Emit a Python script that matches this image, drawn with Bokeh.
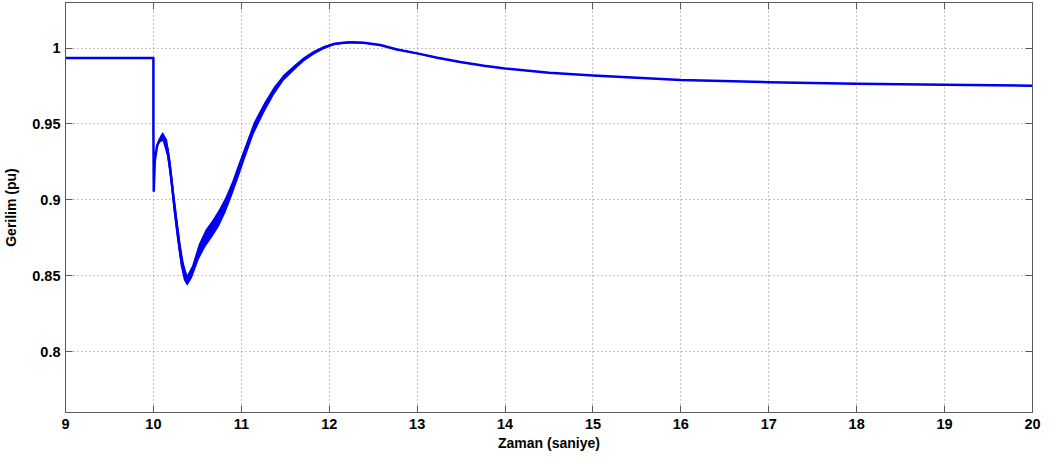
from bokeh.plotting import figure
from bokeh.models import Range1d, FixedTicker, LinearAxis, CustomJSTickFormatter
from bokeh.embed import file_html
from bokeh.resources import INLINE
import numpy as np

# Bus voltage after a fault at t = 10 s
t_s = [9.0, 10.0, 10.0, 10.004, 10.016, 10.043, 10.075, 10.107, 10.157, 10.195,
       10.232, 10.27, 10.31, 10.346, 10.385, 10.44, 10.517, 10.593, 10.669, 10.745,
       10.82, 10.896, 10.97, 11.04, 11.14, 11.26, 11.37, 11.48, 11.6, 11.71,
       11.825, 11.94, 12.05, 12.14, 12.24, 12.39, 12.58, 12.77, 13.0, 13.23,
       13.49, 13.76, 14.0, 14.18, 14.5, 15.0, 15.5, 16.0, 17.0, 18.0,
       19.0, 20.0]
v_pu = [0.9934, 0.9934, 0.945, 0.906, 0.926, 0.936, 0.940, 0.9417, 0.934, 0.9186,
        0.899, 0.881, 0.8636, 0.8527, 0.847, 0.8527, 0.866, 0.8748, 0.881, 0.888,
        0.8967, 0.9076, 0.9196, 0.931, 0.947, 0.9607, 0.9717, 0.9805, 0.987, 0.9926,
        0.997, 1.0003, 1.0026, 1.0033, 1.0038, 1.0035, 1.002, 0.9991, 0.9965, 0.9936,
        0.9908, 0.9884, 0.9866, 0.9855, 0.9838, 0.982, 0.9805, 0.979, 0.9775, 0.9765,
        0.9759, 0.9752]
# half-width of the fast oscillation riding on the response
osc_pu = [0.0, 0.0, 0.0, 0.0, 0.001, 0.0015, 0.002, 0.003, 0.0055, 0.007,
          0.0075, 0.0075, 0.007, 0.0055, 0.0035, 0.004, 0.005, 0.0055, 0.0055, 0.0055,
          0.005, 0.0045, 0.0045, 0.004, 0.0038, 0.0032, 0.0026, 0.002, 0.0017, 0.0014,
          0.0012, 0.001, 0.0008, 0.0007, 0.0006, 0.0005, 0.0005, 0.0005, 0.0004, 0.0004,
          0.0004, 0.0003, 0.0003, 0.0003, 0.0003, 0.0003, 0.0003, 0.0003, 0.0003, 0.0003,
          0.0003, 0.0003]

x_ticks = list(range(9, 21))
y_ticks = [0.8, 0.85, 0.9, 0.95, 1.0]

FONT = "Liberation Sans"
FRAME = "#5a5a5a"
BLUE = "#0000f0"

p = figure(width=1051, height=459, output_backend="svg", toolbar_location=None,
           x_range=Range1d(9, 20), y_range=Range1d(0.76, 1.03),
           min_border_left=65, min_border_right=19, min_border_top=2,
           min_border_bottom=47)
p.background_fill_color = "white"
p.border_fill_color = "white"
p.outline_line_color = FRAME
p.outline_line_width = 1

v = np.array(v_pu)
a = np.array(osc_pu)
p.varea(x=t_s, y1=v - a, y2=v + a, fill_color=BLUE)
p.line(t_s, v_pu, line_color=BLUE, line_width=2.5, line_join="round")

fmt = CustomJSTickFormatter(code="""
let s = tick.toFixed(2);
s = s.replace(/0+$/, '').replace(/\\.$/, '');
return s;
""")

for ax in (p.xaxis[0], p.yaxis[0]):
    ax.major_label_text_font = FONT
    ax.major_label_text_font_style = "bold"
    ax.major_label_text_font_size = "14.5px"
    ax.major_label_text_color = "black"
    ax.axis_label_text_font = FONT
    ax.axis_label_text_font_style = "bold"
    ax.axis_label_text_font_size = "14px"
    ax.axis_label_text_color = "black"
    ax.axis_line_color = FRAME
    ax.major_tick_line_color = FRAME
    ax.major_tick_in = 7
    ax.major_tick_out = 0
    ax.minor_tick_line_color = None

p.xaxis[0].ticker = FixedTicker(ticks=x_ticks)
p.yaxis[0].ticker = FixedTicker(ticks=y_ticks)
p.yaxis[0].formatter = fmt
p.xaxis[0].axis_label = "Zaman (saniye)"
p.yaxis[0].axis_label = "Gerilim (pu)"
p.xaxis[0].major_label_standoff = 6
p.xaxis[0].axis_label_standoff = 3
p.yaxis[0].major_label_standoff = 5
p.yaxis[0].axis_label_standoff = 10

# tick marks on the top and right edges of the box (no labels there)
top = LinearAxis(ticker=FixedTicker(ticks=x_ticks), major_label_text_font_size="1px",
                 major_label_text_color=None,
                 axis_line_color=FRAME, major_tick_line_color=FRAME,
                 major_tick_in=7, major_tick_out=0, minor_tick_line_color=None,
                 major_label_standoff=0)
right = LinearAxis(ticker=FixedTicker(ticks=y_ticks), major_label_text_font_size="1px",
                   major_label_text_color=None,
                   axis_line_color=FRAME, major_tick_line_color=FRAME,
                   major_tick_in=7, major_tick_out=0, minor_tick_line_color=None,
                   major_label_standoff=0)
p.add_layout(top, "above")
p.add_layout(right, "right")

for g in (p.xgrid[0], p.ygrid[0]):
    g.grid_line_color = "#8a8a8a"
    g.grid_line_dash = "1 3"
    g.grid_line_width = 1
p.xgrid[0].ticker = FixedTicker(ticks=x_ticks)
p.ygrid[0].ticker = FixedTicker(ticks=y_ticks)

open("out.html", "w").write(file_html(p, INLINE))
